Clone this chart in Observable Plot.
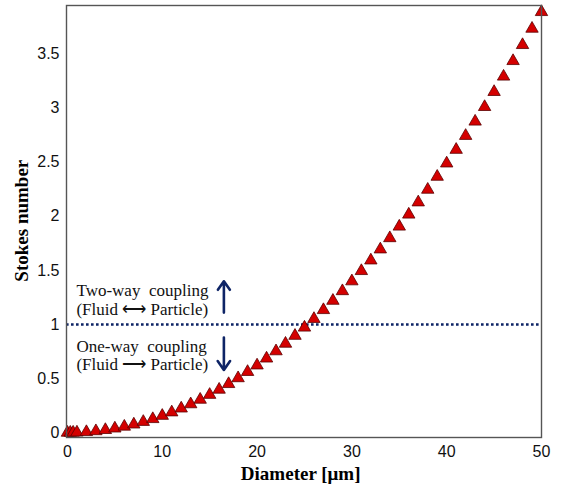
<!DOCTYPE html>
<html>
<head>
<meta charset="utf-8">
<script src="https://cdn.jsdelivr.net/npm/d3@7"></script>
<script src="https://cdn.jsdelivr.net/npm/@observablehq/plot@0.6"></script>
<style>
  html, body { margin: 0; padding: 0; background: #fff; }
  #chart svg { display: block; }
</style>
</head>
<body>
<div id="chart"></div>
<script>
const diameters = [0, 0.3, 0.6, 1, 2, 3, 4, 5, 6, 7, 8, 9, 10, 11, 12, 13, 14, 15, 16, 17, 18, 19, 20,
  21, 22, 23, 24, 25, 26, 27, 28, 29, 30, 31, 32, 33, 34, 35, 36, 37, 38, 39, 40,
  41, 42, 43, 44, 45, 46, 47, 48, 49, 50];
const stokes = [0, 0.0001, 0.0006, 0.0016, 0.006, 0.014, 0.025, 0.039, 0.056, 0.076, 0.100, 0.126, 0.156,
  0.188, 0.224, 0.263, 0.305, 0.350, 0.398, 0.450, 0.504, 0.562, 0.622,
  0.686, 0.753, 0.823, 0.896, 0.972, 1.052, 1.134, 1.220, 1.309, 1.400,
  1.495, 1.593, 1.695, 1.799, 1.906, 2.017, 2.130, 2.247, 2.367, 2.490,
  2.616, 2.745, 2.877, 3.012, 3.151, 3.293, 3.437, 3.585, 3.736, 3.890];
const xTicks = [0, 10, 20, 30, 40, 50];
const yTicks = [0, 0.5, 1, 1.5, 2, 2.5, 3, 3.5];
const threshold = [1];
const annotations = [
  {x: 0.95, y: 1.31, text: "Two-way  coupling"},
  {x: 0.95, y: 1.14, text: "(Fluid \u27f7 Particle)"},
  {x: 0.95, y: 0.80, text: "One-way  coupling"},
  {x: 0.95, y: 0.63, text: "(Fluid \u27f6 Particle)"}
];
const arrows = [
  {x: 16.5, y1: 1.11, y2: 1.40},
  {x: 16.5, y1: 0.88, y2: 0.58}
];
const xLabel = [{x: 24.6, y: -0.385, text: "Diameter [\u03bcm]"}];
const yLabel = [{x: -4.8, y: 1.96, text: "Stokes number"}];

const points = diameters.map((d, i) => ({d, st: stokes[i]}));
const navy = "#0e2466";
const serif = "Liberation Serif, Times New Roman, serif";
const sans = "Liberation Sans, Arial, sans-serif";

const chart = Plot.plot({
  width: 563,
  height: 487,
  marginLeft: 66,
  marginRight: 22,
  marginTop: 5,
  marginBottom: 50,
  style: {fontFamily: sans},
  x: {domain: [-0.1, 50]},
  y: {domain: [-0.045, 3.95]},
  marks: [
    Plot.axisX({ticks: xTicks, tickSize: 0, tickPadding: 8, tickFormat: d => String(d),
      label: null, fontSize: 16, fontFamily: sans, fill: "#111"}),
    Plot.axisY({ticks: yTicks, tickSize: 0, tickPadding: 7, tickFormat: d => String(d),
      label: null, fontSize: 16, fontFamily: sans, fill: "#111"}),
    Plot.text(xLabel, {x: "x", y: "y", text: "text",
      fontFamily: serif, fontSize: 19, fontWeight: "bold", fill: "#000"}),
    Plot.text(yLabel, {x: "x", y: "y", text: "text", rotate: -90,
      fontFamily: serif, fontSize: 19, fontWeight: "bold", fill: "#000"}),
    Plot.ruleY(threshold, {stroke: navy, strokeWidth: 2.6, strokeDasharray: "2.6,2.4"}),
    Plot.text(annotations, {x: "x", y: "y", text: "text", textAnchor: "start",
      fontFamily: serif, fontSize: 17, fill: "#111"}),
    Plot.arrow(arrows, {x: "x", y1: "y1", y2: "y2", stroke: navy, strokeWidth: 2.6,
      headLength: 9, headAngle: 70}),
    Plot.dot(points, {x: "d", y: "st", symbol: "triangle", r: 4.6,
      fill: "#d40000", stroke: "#5a0000", strokeWidth: 0.8}),
    Plot.frame({stroke: "#555", strokeWidth: 1.4})
  ]
});
document.getElementById("chart").appendChild(chart);
</script>
</body>
</html>
